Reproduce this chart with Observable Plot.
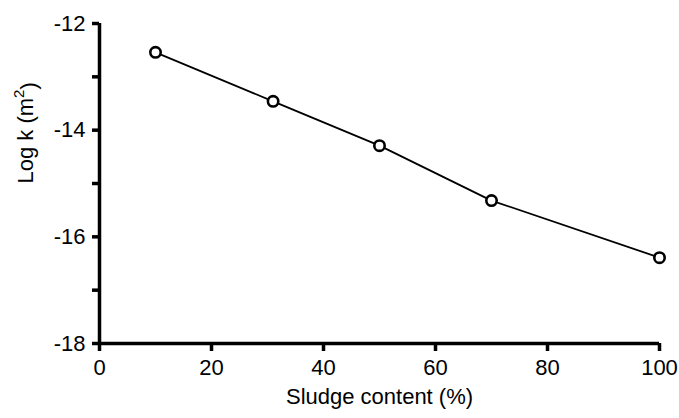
<!DOCTYPE html>
<html><head><meta charset="utf-8">
<script src="https://cdn.jsdelivr.net/npm/d3@7"></script>
<script src="https://cdn.jsdelivr.net/npm/@observablehq/plot@0.6"></script>
<style>body{margin:0;background:#fff}</style>
</head><body><div id="chart"></div>
<script>
const sludge = [10, 31, 50, 70, 100];
const logK = [-12.54, -13.46, -14.29, -15.32, -16.39];
const xTicks = [0, 20, 40, 60, 80, 100];
const yMajor = [-12, -14, -16, -18];
const yMinor = [-13, -15, -17];
const xLabel = "Sludge content (%)";
const yLabelMain = "Log k (m";
const yLabelSup = "2";
const yLabelEnd = ")";

const data = sludge.map((x, i) => ({x, y: logK[i]}));
const font = "'Liberation Sans', Arial, sans-serif";
const fs = 22;

const chart = Plot.plot({
  width: 679, height: 418,
  marginLeft: 99, marginRight: 20, marginTop: 23, marginBottom: 75,
  style: {fontFamily: font, fontSize: fs + "px", color: "#000", background: "#fff"},
  x: {domain: [0, 100]},
  y: {domain: [-18, -12]},
  marks: [
    Plot.axisX(xTicks, {tickSize: 8, tickPadding: 8, strokeWidth: 3.5, label: null, fontSize: fs, tickFormat: d => String(d)}),
    Plot.axisY(yMajor, {tickSize: 7, tickPadding: 7, strokeWidth: 3.5, label: null, fontSize: fs, tickFormat: d => String(d)}),
    Plot.axisY(yMinor, {tickSize: 7, strokeWidth: 3.5, label: null, tickFormat: () => ""}),
    Plot.ruleX([0], {y1: -18, y2: -12, strokeWidth: 3.5}),
    Plot.ruleY([-18], {x1: 0, x2: 100, strokeWidth: 3.5}),
    Plot.line(data, {x: "x", y: "y", stroke: "#000", strokeWidth: 1.8}),
    Plot.dot(data, {x: "x", y: "y", r: 5.2, fill: "#fff", stroke: "#000", strokeWidth: 2.6}),
    Plot.text([xLabel], {text: d => d, frameAnchor: "bottom", dy: 60, fontSize: fs, fill: "#000"}),
    Plot.text([yLabelMain + yLabelSup + yLabelEnd], {text: d => d, frameAnchor: "left", dx: -74, rotate: -90, fontSize: fs, fill: "#000"})
  ]
});
// render the "2" as a real superscript
d3.select(chart).selectAll("text").filter(function() {
  return this.textContent === yLabelMain + yLabelSup + yLabelEnd;
}).each(function() {
  const t = d3.select(this);
  t.text(null);
  t.append("tspan").text(yLabelMain);
  t.append("tspan").attr("font-size", 15).attr("dy", "-0.55em").text(yLabelSup);
  t.append("tspan").attr("dy", "0.55em").attr("font-size", fs).text(yLabelEnd);
});
document.getElementById("chart").appendChild(chart);
</script>
</body></html>
